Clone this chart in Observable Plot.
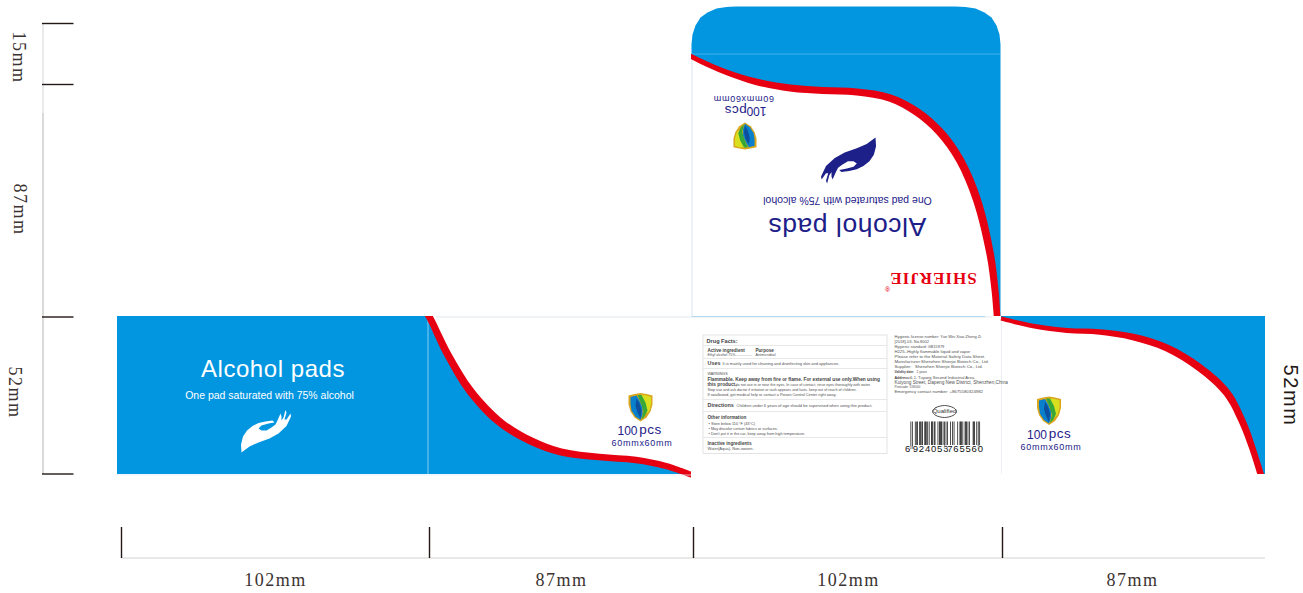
<!DOCTYPE html>
<html>
<head>
<meta charset="utf-8">
<style>
html,body{margin:0;padding:0;background:#fff}
svg{display:block;max-width:none}
g[aria-description="title"] text{letter-spacing:.55px}
g[aria-description="brand"] text{letter-spacing:1px}
g[aria-description="size-label"] text{letter-spacing:.7px}
g[aria-description="pcs-label"] text{letter-spacing:.5px}
g[aria-description="dim-serif"] text{letter-spacing:1.5px}
g[aria-description="dim-sans"] text{letter-spacing:1.6px}
g[aria-description="digits"] text{letter-spacing:.8px}
</style>
<script src="https://cdn.jsdelivr.net/npm/d3@7"></script>
<script src="https://cdn.jsdelivr.net/npm/@observablehq/plot@0.6"></script>
</head>
<body>
<div id="chart"></div>
<script>
const BLUE = "#0296e0", RED = "#e60012", NAVY = "#1d2088", INK = "#231815", TXT = "#4f4f4f";

const flapOutline = [[691,316],[691,52],[691,44],[692,34],[695,25],[700,17],[707,12],[716,8],[726,6.5],[735,6],[955,6],[965,6.5],[975,8],[984,12],[991,17],[996,25],[999,34],[1000,44],[1000,52],[1000,316]];
const flapCurve = [[685,53.5],[691,56.5],[723,71],[757,82],[790,88],[823,90.5],[857,92],[890,98],[917,112],[940,132],[960,160],[977,200],[990,253],[995,290],[997.5,322]];
const flapWidths = [5,5,5.5,6.5,7,7,7,7.5,8,8,8,8,7.5,7,6.5];
const bandCurve = [[424,308],[430,318],[448,355],[471,392],[501,423],[531,441],[561,452],[599,457],[636,460],[666,466],[696,476.5]];
const bandWidths = [7,7,7.5,8,8,7.5,7,6.5,6.5,6,5.5];
const rightCurve = [[1001,318.5],[1033,326],[1067,330.5],[1100,332],[1133,337],[1167,348],[1200,368],[1227,393],[1243,423],[1252,447],[1262.5,480]];
const rightWidths = [4,4.5,5,5.5,6.5,7,7.5,7.5,7,6.5,6.5];
const handShape = [[241,452],[240.5,444],[242.5,436],[246.5,430],[252,425.5],[258,422.5],[265,421],[272,420],[274,422],[268,423],[261,425],[258,428],[261,430],[266,430],[271,427],[275,424],[277,420],[280,413],[281,416],[281,420],[283,417],[285,409.5],[286,412],[284,419],[286,419],[290,413],[290.5,416],[286,425.5],[278,433],[269,438],[258,442],[249,446]];
const shieldOuter = [[628,395],[634,393.5],[640,392.5],[646,393.5],[652,395],[652,404],[650,411],[646,417],[640,421],[634,417],[630,411],[628,404]];
const shieldBlue = [[630,396.5],[636,395],[639,400],[642,407],[642,414],[640,419.5],[635,416],[631,410],[630,403]];
const shieldDark = [[636,398],[639,403],[641,410],[640,418],[637,412],[635,405]];
const shieldGreen = [[637,394.5],[641,394.5],[645,402],[647,410],[644,416],[641,419],[643,411],[641,404]];
const shieldYellow = [[640,394.5],[646,395],[650.5,396.5],[650.5,404],[648.5,411],[646,413],[645,406],[643,400]];

const sideLabels = [{t:"15mm",x:18,y:57},{t:"87mm",x:19,y:209},{t:"52mm",x:14,y:392}];
const bottomLabels = [{t:"102mm",x:275,y:580},{t:"87mm",x:561,y:580},{t:"102mm",x:848,y:580},{t:"87mm",x:1132,y:580}];
const sideTicks = [23,84,316.5,473.5];
const bottomTicks = [121,429,693,1002];

const factsDividers = [345,358,368,399,411,437];
const factsBold = [
  {t:"Drug Facts:",x:706,y:340.5,s:5.6},
  {t:"Active ingredient",x:707,y:350,s:4.6},
  {t:"Purpose",x:755,y:350,s:4.6},
  {t:"Uses",x:707,y:363,s:5.4},
  {t:"Flammable. Keep away from fire or flame. For external use only.When using",x:707,y:379,s:4.8},
  {t:"this product,",x:707,y:384,s:4.8},
  {t:"Directions",x:707,y:405,s:5.4},
  {t:"Other information",x:707,y:417.5,s:4.6},
  {t:"Inactive ingredients",x:707,y:443,s:4.7}
];
const factsPlain = [
  {t:"Ethyl alcohol 75%.................",x:707,y:354.5,s:3.5},
  {t:"Antimicrobial",x:755,y:354.5,s:3.5},
  {t:"It is mainly used for cleaning and disinfecting skin and appliances.",x:722,y:363.5,s:4},
  {t:"WARNINGS",x:707,y:373.5,s:3.7},
  {t:"do not use in or near the eyes. In case of contact, rinse eyes thoroughly with water.",x:735,y:384.5,s:3.7},
  {t:"Stop use and ask doctor if irritation or rash appears and lasts. keep out of reach of children.",x:707,y:389.5,s:3.7},
  {t:"If swallowed, get medical help or contact a Poison Control Center right away.",x:707,y:394,s:3.8},
  {t:"Children under 6 years of age should be supervised when using this product.",x:736,y:405.5,s:4},
  {t:"• Store below 110 °F (43°C)",x:708,y:423.5,s:3.8},
  {t:"• May discolor certain fabrics or surfaces.",x:708,y:428.5,s:3.8},
  {t:"• Don't put it in the car, keep away from high temperature.",x:708,y:433,s:3.8},
  {t:"Water(Aqua), Non-woven.",x:707,y:448.5,s:4}
];
const infoPlain = [
  {t:"Hygienic license number: Yue Wei Xiao Zheng Zi",x:894,y:336.5,s:4},
  {t:"[2018]-03- No.8002",x:894,y:341,s:4},
  {t:"Hygienic standard: GB15979",x:894,y:346,s:3.9},
  {t:"H225--Highly flammable liquid and vapor",x:894,y:351,s:4.2},
  {t:"Please refer to the Material Safety Data Sheet.",x:894,y:356,s:4.4},
  {t:"Manufacturer:Shenzhen Shierjie Biotech Co., Ltd.",x:894,y:361,s:4.3},
  {t:"Supplier:   Shenzhen Shierjie Biotech Co., Ltd.",x:894,y:366,s:4.3},
  {t:"2 years",x:916,y:371.5,s:3.2},
  {t:"6-1, Tuyang Second Industrial Area,",x:909.5,y:377,s:4.1},
  {t:"Kuiyong Street, Dapeng New District, Shenzhen,China",x:894,y:381.5,s:4.7},
  {t:"Postcode: 518000",x:894,y:386,s:3.2},
  {t:"Emergency contact number: +8675580324982",x:894,y:391,s:4.3}
];
const infoBold = [
  {t:"Validity date:",x:894,y:371.5,s:3.2},
  {t:"Address:",x:894,y:377,s:3.6}
];
const qualifiedOval = [[932,411],[935.5,407],[944,405],[952.5,407],[956,411],[952.5,415],[944,417],[935.5,415]];
const barcodeModules = "10100010110011011001110101001110110001011110101010100010010100001001110100111010100001110010101";
const barcodeDigits = [{t:"6",x:907.5},{t:"924053",x:930.5},{t:"765560",x:965}];
const guardModules = [0,2,46,48,92,94];

const pts = a => a.map(([x,y]) => ({x,y}));
const poly = (a, fill, extra={}) => Plot.line(pts(a), {x:"x", y:"y", fill, stroke:"none", curve:"linear-closed", ...extra});
const moved = (a, f) => a.map(([x,y]) => f(x,y));

// a tapered band: the two edges lie on either side of the read centre line
const ribbon = (curve, widths, fill) => {
  const rows = curve.map(([x,y], i) => {
    const [ax,ay] = curve[Math.max(0,i-1)], [bx,by] = curve[Math.min(curve.length-1,i+1)];
    const len = Math.hypot(bx-ax, by-ay), w = widths[i]/2;
    return {x1:x-(by-ay)/len*w, y1:y+(bx-ax)/len*w, x2:x+(by-ay)/len*w, y2:y-(bx-ax)/len*w};
  });
  return Plot.area(rows, {x1:"x1", y1:"y1", x2:"x2", y2:"y2", fill, curve:"catmull-rom"});
};

const shieldMarks = f => [
  poly(moved(shieldOuter,f), "#d9a61c"),
  poly(moved(shieldBlue,f), "#0a7fcb"),
  poly(moved(shieldDark,f), "#0b4f9e"),
  poly(moved(shieldYellow,f), "#d8df1f"),
  poly(moved(shieldGreen,f), "#35a838")
];
const shieldA = (x,y) => [x,y];
const shieldB = (x,y) => [x+408.5,y+3.5];
const shieldC = (x,y) => [756-(x-628)*.96, 149-(y-392.5)*.95];
const handBlue = (x,y) => [875-(x-241)*1.1, 137+(452-y)*1.08];

const label = (t, x, y, o) => Plot.text([t], {x:()=>x, y:()=>y, text:d=>d, fontFamily:"Liberation Sans", ...o});
const table = (rows, o) => Plot.text(rows, {x:"x", y:"y", text:"t", fontSize:"s", textAnchor:"start", fill:TXT, fontFamily:"Liberation Sans", ...o});
const block = (x1, x2, y1, y2, o) => Plot.rect([0], {x1:()=>x1, x2:()=>x2, y1:()=>y1, y2:()=>y2, ...o});

const bars = [];
for (let i = 0; i < barcodeModules.length; i++) {
  if (barcodeModules[i] === "1") bars.push({m:i, guard:guardModules.includes(i)});
}
const barX = m => 910.5 + m * 0.732;

const plot = Plot.plot({
  width:1303, height:593, margin:0,
  x:{domain:[0,1303], range:[0,1303], axis:null},
  y:{domain:[0,593], range:[0,593], axis:null},
  marks:[
    // panels
    poly(flapOutline, BLUE),
    Plot.areaY(pts(flapCurve), {x:"x", y1:"y", y2:()=>316, fill:"#fff", curve:"catmull-rom"}),
    Plot.ruleY([53.5], {x1:691, x2:1000, stroke:"#5cbcee", strokeWidth:.7}),
    block(117, 428, 316, 474, {fill:BLUE}),
    Plot.areaY(pts(bandCurve), {x:"x", y1:"y", y2:()=>474, fill:BLUE, curve:"catmull-rom"}),
    Plot.ruleX([427.5], {y1:316, y2:474, stroke:"#a8dcf5", strokeWidth:.8}),
    Plot.areaY(pts([...rightCurve.slice(0,-1),[1262,474],[1265,474]]), {x:"x", y1:()=>316, y2:"y", fill:BLUE, curve:"linear"}),
    // ribbons
    ribbon(flapCurve, flapWidths, RED),
    ribbon(bandCurve, bandWidths, RED),
    // trims around the ribbons
    block(680, 691, 48, 62, {fill:"#fff"}),
    block(418, 442, 300, 316, {fill:"#fff"}),
    block(691, 700, 462, 482, {fill:"#fff"}),
    block(985, 1001, 316, 326, {fill:"#fff"}),
    ribbon(rightCurve, rightWidths, RED),
    block(1250, 1275, 474, 484, {fill:"#fff"}),
    // panel edges
    Plot.ruleY([316.5], {x1:436, x2:992, stroke:"#e3e8ee", strokeWidth:1}),
    Plot.ruleX([691.5], {y1:60, y2:316, stroke:"#cfe0ee", strokeWidth:.8}),
    Plot.ruleX([1001], {y1:322, y2:474, stroke:"#e8edf2", strokeWidth:.8}),
    Plot.ruleY([474.5], {x1:117, x2:691, stroke:"#e6eef4", strokeWidth:.8}),

    // measure lines
    Plot.ruleX([42.5], {y1:23, y2:113, stroke:"#d4d4d4", strokeWidth:1}),
    Plot.ruleX([42.5], {y1:113, y2:474, stroke:"#b5b5b5", strokeWidth:1}),
    Plot.ruleY(sideTicks, {x1:42, x2:73.5, stroke:INK, strokeWidth:1.4}),
    Plot.ruleY([557.5], {x1:121, x2:1265, stroke:"#c6c6c6", strokeWidth:.8}),
    Plot.ruleX(bottomTicks, {y1:527, y2:558, stroke:INK, strokeWidth:1.4}),
    Plot.text(sideLabels, {x:"x", y:"y", text:"t", rotate:90, fontSize:18, fontFamily:"Liberation Serif", fill:"#3a3230", ariaDescription:"dim-serif"}),
    Plot.text(bottomLabels, {x:"x", y:"y", text:"t", fontSize:18, fontFamily:"Liberation Serif", fill:"#3a3230", ariaDescription:"dim-serif"}),
    label("52mm", 1290, 395, {rotate:90, fontSize:20, fill:INK, ariaDescription:"dim-sans"}),

    // front panel
    label("Alcohol pads", 272.5, 369, {fontSize:24, fill:"#fff", ariaDescription:"title"}),
    label("One pad saturated with 75% alcohol", 269, 395, {fontSize:10.5, fill:"#fff"}),
    poly(handShape, "#fff"),

    // flap face
    label("Alcohol pads", 846.5, 226, {fontSize:26.5, fill:NAVY, rotate:180, ariaDescription:"title"}),
    label("One pad saturated with 75% alcohol", 847, 200, {fontSize:10.5, fill:NAVY, rotate:180}),
    poly(moved(handShape, handBlue), NAVY),
    label("SHIERJIE", 932.5, 278, {fontSize:17, fontWeight:"bold", fontFamily:"Liberation Serif", fill:RED, rotate:180, ariaDescription:"brand"}),
    label("®", 887, 288, {fontSize:7, fill:RED, rotate:180}),
    ...shieldMarks(shieldC),
    label("100", 756, 110, {fontSize:12, fill:NAVY, rotate:180}),
    label("pcs", 735, 109.5, {fontSize:13.5, fill:NAVY, rotate:180, ariaDescription:"pcs-label"}),
    label("60mmx60mm", 743, 98, {fontSize:9, fill:NAVY, rotate:180, ariaDescription:"size-label"}),

    // panel 2 labels
    ...shieldMarks(shieldA),
    label("100", 627, 431, {fontSize:12, fill:NAVY}),
    label("pcs", 650, 429.5, {fontSize:13.5, fill:NAVY, ariaDescription:"pcs-label"}),
    label("60mmx60mm", 641.5, 442.5, {fontSize:9, fill:NAVY, ariaDescription:"size-label"}),

    // panel 4 labels
    ...shieldMarks(shieldB),
    label("100", 1036.5, 435, {fontSize:12, fill:NAVY}),
    label("pcs", 1059.5, 433.5, {fontSize:13.5, fill:NAVY, ariaDescription:"pcs-label"}),
    label("60mmx60mm", 1050.5, 447, {fontSize:9, fill:NAVY, ariaDescription:"size-label"}),

    // drug facts table
    block(703, 887, 335, 453.5, {stroke:"#dcdcdc", strokeWidth:.8, fill:"#fff"}),
    Plot.ruleY(factsDividers, {x1:703, x2:887, stroke:"#e2e2e2", strokeWidth:.8}),
    table(factsBold, {fontWeight:"bold", fill:"#444"}),
    table(factsPlain, {}),
    table(infoBold, {fontWeight:"bold", fill:"#444"}),
    table(infoPlain, {}),

    // qualified stamp and barcode
    Plot.line(pts(qualifiedOval), {x:"x", y:"y", stroke:"#222", strokeWidth:.8, fill:"#fff", curve:"cardinal-closed"}),
    label("Qualified", 944, 411, {fontSize:6, fill:"#333"}),
    Plot.rect(bars, {x1:d=>barX(d.m), x2:d=>barX(d.m+1), y1:()=>421.5, y2:d=>d.guard?449:445, fill:"#111"}),
    Plot.text(barcodeDigits, {x:"x", y:()=>448.5, text:"t", fontSize:9.5, fontFamily:"Liberation Sans", fill:"#111", stroke:"#fff", strokeWidth:1.5, paintOrder:"stroke", ariaDescription:"digits"})
  ]
});
document.getElementById("chart").append(plot);
</script>
</body>
</html>
